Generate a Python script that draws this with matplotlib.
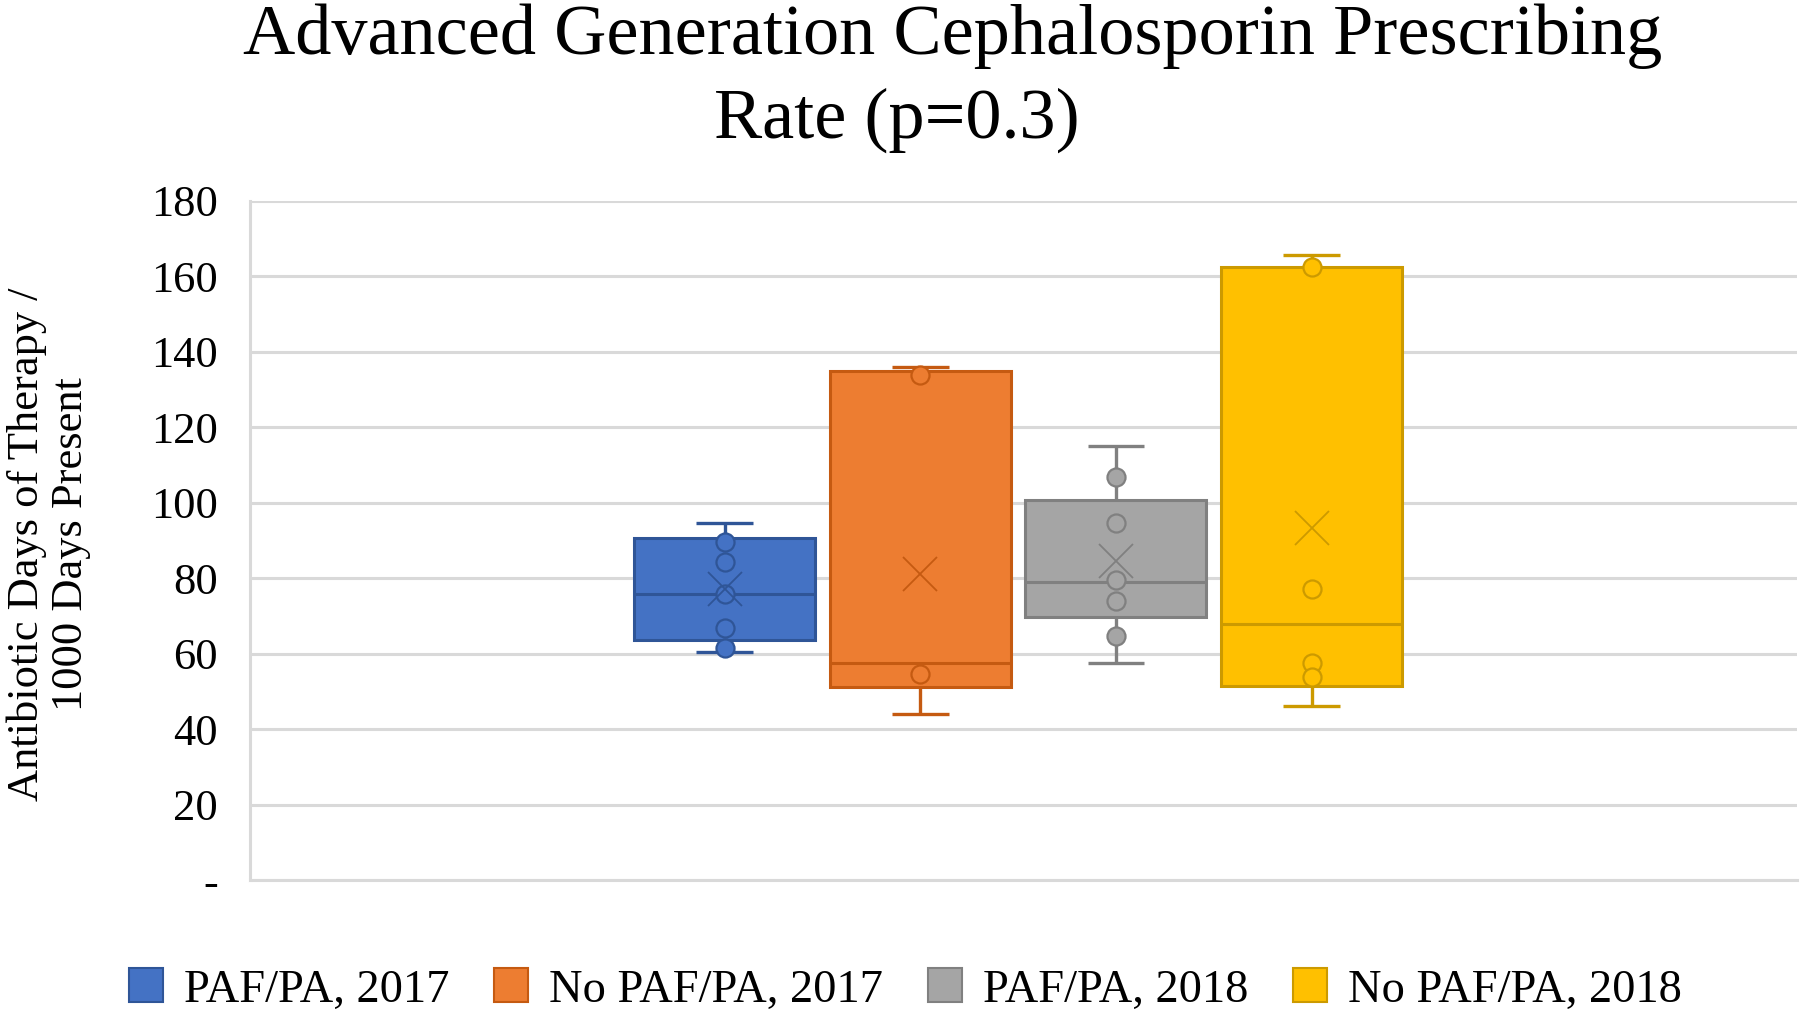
import matplotlib
matplotlib.use("Agg")
import matplotlib.pyplot as plt
import matplotlib.patches as mpatches

plt.rcParams["font.family"] = ["Liberation Serif", "DejaVu Serif"]

# Box statistics (Antibiotic DOT / 1000 days present)
groups = ["PAF/PA, 2017", "No PAF/PA, 2017", "PAF/PA, 2018", "No PAF/PA, 2018"]
whisker_low = [60.5, 44.1, 57.4, 46.2]
q1 = [63.6, 51.2, 69.8, 51.5]
median = [75.9, 57.4, 79.1, 67.8]
q3 = [90.5, 134.8, 100.7, 162.4]
whisker_high = [94.5, 135.9, 115.1, 165.5]
mean = [77.1, 81.1, 84.6, 93.4]
inner_points = [
    [89.5, 84.2, 75.8, 66.9, 61.6],
    [133.7, 54.6],
    [106.9, 94.5, 79.5, 74.0, 64.7],
    [162.4, 77.1, 57.6, 53.7],
]

y_ticks = [0, 20, 40, 60, 80, 100, 120, 140, 160, 180]
y_tick_labels = ["-", "20", "40", "60", "80", "100", "120", "140", "160", "180"]

fills = ["#4472C4", "#ED7D31", "#A5A5A5", "#FFC000"]
edges = ["#2F5597", "#C55A11", "#808080", "#CC9A00"]
grid_color = "#D9D9D9"

fig = plt.figure(figsize=(18, 10.15), dpi=100)
ax = fig.add_axes([0.1389, 0.1330, 0.8594, 0.6692])

positions = list(range(1, len(groups) + 1))
stats = [
    dict(med=median[i], q1=q1[i], q3=q3[i], whislo=whisker_low[i],
         whishi=whisker_high[i], mean=mean[i], fliers=[], label=groups[i])
    for i in range(len(groups))
]

bp = ax.bxp(stats, positions=positions, widths=0.925, patch_artist=True,
            showmeans=True, showfliers=False, capwidths=0.29, zorder=3)

for i in range(len(groups)):
    bp["boxes"][i].set(facecolor=fills[i], edgecolor=edges[i], linewidth=2.2)
    bp["medians"][i].set(color=edges[i], linewidth=2.2)
    for ln in bp["whiskers"][2 * i:2 * i + 2] + bp["caps"][2 * i:2 * i + 2]:
        ln.set(color=edges[i], linewidth=2.4, solid_capstyle="butt")
    bp["means"][i].set(marker="x", markersize=24, markeredgecolor=edges[i],
                       markeredgewidth=1.3, zorder=5)
    pts = inner_points[i]
    ax.plot([positions[i]] * len(pts), pts, linestyle="none", marker="o",
            markersize=13, markerfacecolor=fills[i], markeredgecolor=edges[i],
            markeredgewidth=1.6, zorder=4)

ax.set_xlim(-1.425, 6.48)
ax.set_ylim(0, 180)
ax.set_yticks(y_ticks)
ax.set_yticklabels(y_tick_labels)
ax.set_xticks([])
ax.tick_params(axis="y", length=0, pad=23, labelsize=32)
ax.yaxis.grid(True, color=grid_color, linewidth=2.2, zorder=0)
ax.set_axisbelow(True)
ax.spines[["top", "right"]].set_visible(False)
ax.spines[["left", "bottom"]].set_color(grid_color)
ax.spines[["left", "bottom"]].set_linewidth(2.2)

# title, two lines as in the original
fig.text(0.5294, 0.9468, "Advanced Generation Cephalosporin Prescribing",
         ha="center", va="baseline", fontsize=52)
fig.text(0.4983, 0.864, "Rate (p=0.3)", ha="center", va="baseline", fontsize=52)

fig.text(0.027, 0.464, "Antibiotic Days of Therapy /\n1000 Days Present",
         rotation=90, ha="center", va="center", multialignment="center",
         fontsize=32, linespacing=1.15)

handles = [mpatches.Patch(facecolor=fills[i], edgecolor=edges[i], linewidth=1.5,
                          label=groups[i]) for i in range(len(groups))]
fig.legend(handles=handles, loc="center", bbox_to_anchor=(0.503, 0.0246), ncol=4,
           frameon=False, fontsize=33.5, handlelength=0.74, handleheight=0.74,
           handletextpad=0.45, columnspacing=0.95, borderpad=0, borderaxespad=0)

fig.savefig("out.png", dpi=100)
